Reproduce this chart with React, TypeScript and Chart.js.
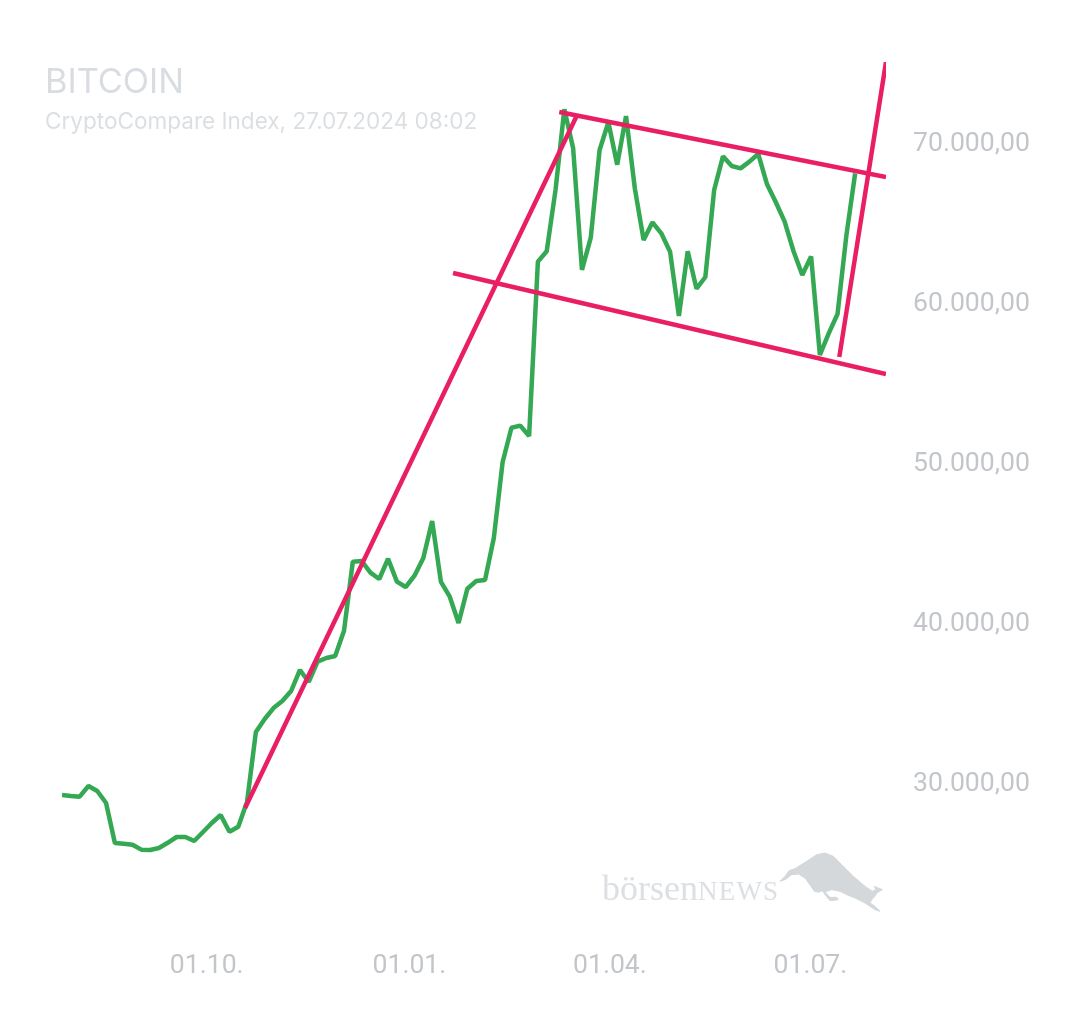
import React, { useEffect, useRef } from 'react';
import { Chart, registerables } from 'chart.js';

Chart.register(...registerables);

const FIRST_DAY = -65; // days relative to 01.10.2023
const DAY_STEP = 4;

const closeValues = [
  29125, 29060, 29020, 29690, 29375, 28625, 26125, 26080, 26020, 25710,
  25690, 25810, 26140, 26500, 26500, 26250, 26810, 27375, 27875, 26830,
  27140, 28710, 33060, 33875, 34560, 35000, 35625, 36940, 36190, 37460,
  37690, 37810, 39390, 43710, 43750, 43020, 42625, 43890, 42460, 42125,
  42830, 43940, 46250, 42440, 41520, 39875, 42020, 42500, 42560, 45190,
  49940, 52080, 52210, 51560, 62460, 63110, 66940, 71980, 69540, 61940,
  63960, 69440, 71170, 68520, 71560, 67040, 63810, 64920, 64230, 63080,
  59060, 63110, 60770, 61500, 66940, 69040, 68440, 68290, 68710, 69190,
  67290, 66170, 64960, 63125, 61625, 62790, 56625, 57980, 59190, 64080,
  67980,
];

// trend lines, [day, value] start and end
const riseLine = [[18.1, 28312], [168.8, 71625]];
const channelTop = [[160.7, 71812], [309, 67750]];
const channelBottom = [[112.5, 61750], [309, 55437]];
const breakoutLine = [[287.8, 56500], [309, 74937]];

const xTickDays = [0, 92, 183, 274];
const xTickLabels = ['01.10.', '01.01.', '01.04.', '01.07.'];
const yTickValues = [30000, 40000, 50000, 60000, 70000];

const GREEN = '#34a853';
const PINK = '#e91e63';
const TICK_COLOR = '#c2c6ca';
const LINE_WIDTH = 4.5;

const toPoints = (line: number[][]) => line.map(([x, y]) => ({ x, y }));

const trendDataset = (line: number[][]) => ({
  data: toPoints(line),
  borderColor: PINK,
  borderWidth: LINE_WIDTH,
  pointRadius: 0,
  tension: 0,
});

const App = () => {
  const canvasRef = useRef<HTMLCanvasElement | null>(null);

  useEffect(() => {
    if (!canvasRef.current) return;
    const chart = new Chart(canvasRef.current, {
      type: 'line',
      data: {
        datasets: [
          trendDataset(riseLine),
          trendDataset(channelTop),
          trendDataset(channelBottom),
          trendDataset(breakoutLine),
          {
            data: closeValues.map((y, i) => ({ x: FIRST_DAY + i * DAY_STEP, y })),
            borderColor: GREEN,
            borderWidth: LINE_WIDTH,
            borderJoinStyle: 'bevel',
            pointRadius: 0,
            tension: 0,
          },
        ],
      },
      options: {
        animation: false,
        responsive: false,
        devicePixelRatio: 1,
        layout: { padding: { left: 62, top: 62, right: 0, bottom: 0 } },
        plugins: { legend: { display: false }, title: { display: false }, tooltip: { enabled: false } },
        scales: {
          x: {
            type: 'linear',
            min: FIRST_DAY,
            max: 309,
            grid: { display: false, drawTicks: false },
            border: { display: false },
            afterFit: (axis: any) => { axis.height = 83; },
            afterBuildTicks: (axis: any) => { axis.ticks = xTickDays.map((value) => ({ value })); },
            ticks: {
              autoSkip: false,
              maxRotation: 0,
              padding: 20,
              labelOffset: 1.5,
              color: TICK_COLOR,
              font: { family: 'Roboto', size: 26.6 },
              callback: (value: any) => xTickLabels[xTickDays.indexOf(Number(value))],
            },
          },
          y: {
            position: 'right',
            min: 20687.5,
            max: 74937.5,
            grid: { display: false, drawTicks: false },
            border: { display: false },
            afterFit: (axis: any) => { axis.width = 194; },
            afterBuildTicks: (axis: any) => { axis.ticks = yTickValues.map((value) => ({ value })); },
            ticks: {
              padding: 27,
              labelOffset: 3,
              color: TICK_COLOR,
              font: { family: 'Roboto', size: 26.6 },
              callback: (value: any) =>
                Number(value).toLocaleString('de-DE', { minimumFractionDigits: 2 }),
            },
          },
        },
      },
    });
    return () => chart.destroy();
  }, []);

  return (
    <div style={{ position: 'absolute', left: 0, top: 0, width: 1080, height: 1013, background: '#fff', overflow: 'hidden' }}>
      <canvas ref={canvasRef} width={1080} height={1013} style={{ display: 'block' }} />
      <div style={{ position: 'absolute', left: 45, top: 61, fontFamily: 'Inter', fontSize: 34.3, lineHeight: '40px', color: '#d9dce0' }}>
        BITCOIN
      </div>
      <div style={{ position: 'absolute', left: 45, top: 107, fontFamily: 'Inter', fontSize: 22.55, lineHeight: '28px', color: '#dcdfe2', whiteSpace: 'nowrap' }}>
        CryptoCompare Index, 27.07.2024 08:02
      </div>
      <div style={{ position: 'absolute', left: 602, top: 866, fontFamily: 'Liberation Serif', fontSize: 36, lineHeight: '44px', color: '#dde0e3', whiteSpace: 'nowrap' }}>
        börsen<span style={{ fontSize: 27, letterSpacing: 1.2 }}>NEWS</span>
      </div>
      <svg style={{ position: 'absolute', left: 775, top: 848 }} width={115} height={70} viewBox="0 0 345 210">
        <path
          fill="#d4d8db"
          stroke="#d4d8db"
          strokeWidth={3}
          strokeLinejoin="round"
          d="M15 100 L30 85 L42 68 L60 62 L95 40 L125 20 L150 15 L175 25 L200 50 L235 85 L270 115 L292 130 L302 125 L298 115 L322 125 L305 135 L300 145 L290 155 L285 165 L300 175 L315 190 L300 185 L270 165 L240 150 L215 140 L195 130 L170 125 L150 132 L165 148 L185 148 L190 155 L165 158 L150 140 L142 128 L130 133 L118 130 L108 115 L90 90 L70 78 L50 80 L30 95 Z"
        />
      </svg>
    </div>
  );
};

export default App;
